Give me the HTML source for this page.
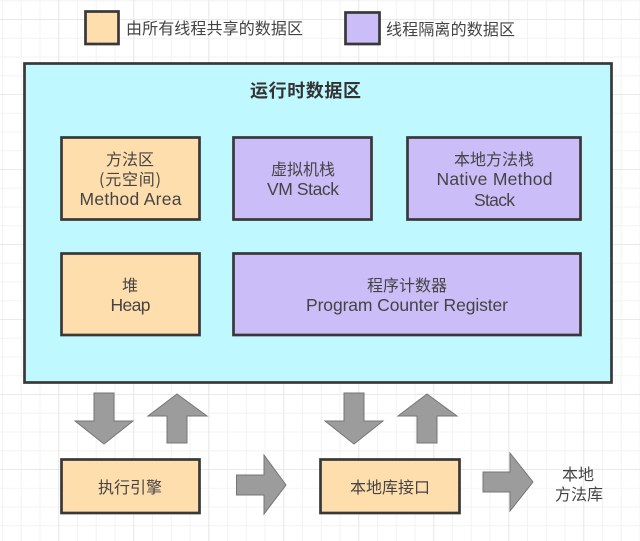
<!DOCTYPE html>
<html>
<head>
<meta charset="utf-8">
<style>
html,body{margin:0;padding:0;background:#fff;width:640px;height:541px;overflow:hidden}
svg{display:block}
text{font-family:"Liberation Sans","Noto Sans CJK SC",sans-serif;font-size:17.5px;fill:#444;text-anchor:middle}
.c{font-family:"Noto Sans CJK SC","Liberation Sans",sans-serif;font-weight:400;font-size:16px}
.box{stroke:#383838;stroke-width:2.7}
.o{fill:#ffdead}
.p{fill:#cbbdf8}
.a{fill:#9c9c9c;stroke:#757575;stroke-width:1}
</style>
</head>
<body>
<svg width="640" height="541" viewBox="0 0 640 541" xmlns="http://www.w3.org/2000/svg">
<defs>
<pattern id="minor" x="2" y="0.25" width="18.75" height="18.75" patternUnits="userSpaceOnUse">
<path d="M0.5 0V18.75M0 0.5H18.75" stroke="#f3f3f3" stroke-width="1" fill="none"/>
</pattern>
<pattern id="major" x="58.25" y="19" width="75" height="75" patternUnits="userSpaceOnUse">
<path d="M0.5 0V75M0 0.5H75" stroke="#e9e9e9" stroke-width="1" fill="none"/>
</pattern>
</defs>
<rect width="640" height="541" fill="#fff"/>
<rect width="640" height="541" fill="url(#minor)"/>
<rect width="640" height="541" fill="url(#major)"/>

<rect class="box o" x="85.5" y="11.5" width="33" height="32.500"/>
<text class="c" x="214.500" y="34" textLength="177">由所有线程共享的数据区</text>
<rect class="box p" x="345.500" y="12.500" width="34" height="31.500"/>
<text class="c" x="450.500" y="35" textLength="129">线程隔离的数据区</text>

<rect class="box" x="24.500" y="63.500" width="587" height="319" fill="#c0f8ff"/>
<text x="305.500" y="97" style="font-size:18px;font-weight:700;font-family:'Noto Sans CJK SC',sans-serif;fill:#333" textLength="111">运行时数据区</text>

<rect class="box o" x="61.500" y="137.500" width="138" height="82"/>
<text class="c" x="130" y="165">方法区</text>
<text class="c" x="130" y="185" textLength="62">(元空间)</text>
<text x="130.500" y="205" textLength="102" lengthAdjust="spacing">Method Area</text>

<rect class="box p" x="233.500" y="137.500" width="138" height="82"/>
<text class="c" x="303" y="175">虚拟机栈</text>
<text x="303" y="195" textLength="72" lengthAdjust="spacing">VM Stack</text>

<rect class="box p" x="407.500" y="137.500" width="173" height="82"/>
<text class="c" x="494" y="165">本地方法栈</text>
<text x="494.500" y="185" textLength="116" lengthAdjust="spacing">Native Method</text>
<text x="494.500" y="206" textLength="41" lengthAdjust="spacing">Stack</text>

<rect class="box o" x="61.500" y="253.500" width="138" height="81.500"/>
<text class="c" x="130" y="291">堆</text>
<text x="130.500" y="311" textLength="40" lengthAdjust="spacing">Heap</text>

<rect class="box p" x="233.500" y="253.500" width="347" height="81.500"/>
<text class="c" x="407" y="291">程序计数器</text>
<text x="407" y="311" textLength="202" lengthAdjust="spacing">Program Counter Register</text>

<polygon class="a" points="94,393 114,393 114,421 133,421 104,444 75,421 94,421"/>
<polygon class="a" points="177,394 207,416 187,416 187,443 167,443 167,416 148,416"/>
<polygon class="a" points="344,393 364,393 364,421 383,421 354,444 325,421 344,421"/>
<polygon class="a" points="427,394 457,416 437,416 437,443 417,443 417,416 398,416"/>
<polygon class="a" points="236.500,475 264,475 264,455 286,485 264,514 264,495 236.500,495"/>
<polygon class="a" points="483,472 510,472 510,453 533,482 510,511 510,492 483,492"/>

<rect class="box o" x="61.500" y="459.500" width="138" height="53.500"/>
<text class="c" x="130" y="493">执行引擎</text>
<rect class="box o" x="320.500" y="459.500" width="139" height="53.500"/>
<text class="c" x="390" y="493">本地库接口</text>

<text class="c" x="578" y="480">本地</text>
<text class="c" x="579" y="500">方法库</text>
</svg>
</body>
</html>
